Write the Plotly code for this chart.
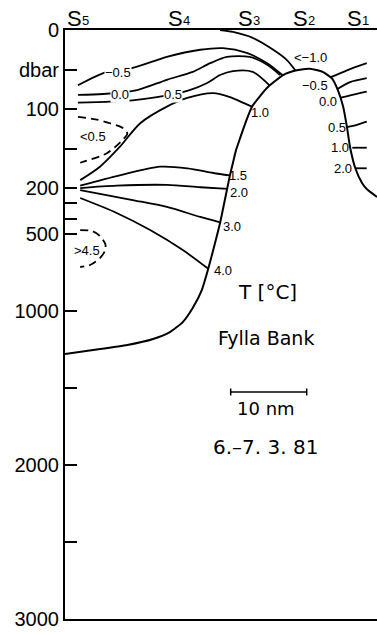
import plotly.graph_objects as go

# ---------------- depth axis: linear 0-200 dbar, compressed below ----------------
BREAK_DBAR = 200.0
DEEP_SCALE = 0.1948          # relative scale of the deep (200-3000 dbar) part


def yt(d):
    return d if d <= BREAK_DBAR else BREAK_DBAR + (d - BREAK_DBAR) * DEEP_SCALE


def ytl(ds):
    return [yt(d) for d in ds]


X_MAX_NM = 41.05
major_ticks = [0, 50, 100, 200, 500, 1000, 2000, 3000]
major_labels = ["0", "dbar", "100", "200", "500", "1000", "2000", "3000"]
minor_ticks = [150, 300, 400, 1500, 2500]

# ---------------- stations (distance in nm) ----------------
station_letter = "S"
station_numbers = ["5", "4", "3", "2", "1"]
station_x = [2.2, 15.5, 24.7, 32.0, 39.1]

# ---------------- bottom topography (Fylla Bank) ----------------
bank_x = [0.0, 3.7, 8.2, 11.6, 13.8, 15.5, 16.8, 18.0, 18.8, 19.5, 20.4, 21.3, 21.7,
          22.1, 22.5, 23.0, 23.8, 24.6, 26.6, 28.7, 30.5, 32.2, 33.9, 35.1, 35.9,
          36.6, 37.1, 37.5, 38.2, 39.1, 39.7, 41.05]
bank_d = [1279, 1253, 1220, 1181, 1136, 1071, 980, 863, 733, 603, 427, 213, 184,
          168, 152, 138, 116, 97, 73, 57, 51, 49, 53, 61, 76,
          97, 123, 148, 175, 194, 206, 258]

# ---------------- isotherms, west of the bank ----------------
surf_x = [20.4, 22.1, 24.7, 27.4, 29.2, 30.3]
surf_d = [0, 2.5, 10, 25, 38, 51]

m05_x = [1.7, 5.5, 8.9, 13.4, 17.8, 20.8, 23.9, 26.6, 28.6]
m05_d = [70, 53, 48, 34, 25, 23, 29, 42, 57]

z00_x = [1.7, 5.0, 9.5, 13.4, 16.8, 19.1, 21.3, 24.3, 26.6, 28.3]
z00_d = [82, 81, 76, 63, 53, 42, 34, 34, 44, 57]

p05_x = [1.7, 8.9, 12.1, 16.4, 18.7, 20.4, 22.1, 24.7, 26.9]
p05_d = [92, 89, 85, 76, 67, 57, 52, 53, 70]

p10_x = [2.0, 4.6, 7.2, 9.9, 13.4, 16.1, 19.5, 21.7, 23.4, 24.6]
p10_d = [190, 173, 148, 118, 97, 86, 80, 85, 92, 97]

p15_x = [2.0, 7.2, 12.5, 16.1, 19.5, 21.7]
p15_d = [197, 184, 173, 175, 181, 184]

p20_x = [2.0, 6.8, 13.4, 17.8, 21.4]
p20_d = [200, 197, 196, 199, 206]

p30_x = [2.0, 8.9, 13.4, 17.8, 20.5]
p30_d = [213, 278, 323, 388, 425]

p40_x = [2.0, 6.8, 11.2, 15.5, 18.85]
p40_d = [265, 362, 473, 603, 725]

lt05_x = [1.7, 4.0, 5.9, 7.6, 8.2, 7.6, 5.5, 2.0]
lt05_d = [110, 113, 118, 124, 131, 139, 156, 168]

gt45_x = [2.0, 3.6, 4.6, 5.3, 5.3, 4.6, 3.3, 2.0]
gt45_d = [473, 480, 512, 564, 603, 655, 700, 713]

# ---------------- isotherms, east of the bank ----------------
e_m10_x = [34.9, 37.1, 39.7]
e_m10_d = [60, 51, 42]
e_m05_x = [35.8, 37.5, 39.7]
e_m05_d = [75, 66, 61]
e_z00_x = [36.2, 37.8, 39.7]
e_z00_d = [86, 82, 78]
e_p05_x = [37.1, 38.4, 39.7]
e_p05_d = [123, 120, 116]
e_p10_x = [37.8, 39.7]
e_p10_d = [149, 149]
e_p20_x = [38.2, 39.7]
e_p20_d = [175, 175]

# ---------------- contour labels ----------------
label_text = ["−0.5", "0.0", "0.5", "1.0", "&lt;0.5", "1.5", "2.0", "3.0", "4.0", "&gt;4.5",
              "&lt;−1.0", "−0.5", "0.0", "0.5", "1.0", "2.0"]
label_x = [7.0, 7.2, 14.2, 25.7, 3.7, 22.7, 22.9, 22.0, 20.8, 2.9,
           32.3, 32.9, 34.6, 35.8, 36.2, 36.6]
label_d = [54, 81, 81, 105, 135, 184, 226, 447, 733, 603,
           35, 70, 91, 124, 149, 175]
label_bg = [True, True, True, False, False, False, False, False, False, False,
            False, False, False, False, False, False]

# ---------------- annotations in the deep part ----------------
scale_start_nm = 21.8
scale_len_nm = 10.0
scale_d = 1525
title_texts = ["T [°C]", "Fylla Bank", "10 nm", "6.–7. 3. 81"]
title_x = [26.6, 26.4, 26.4, 26.4]
title_d = [876, 1175, 1630, 1880]
title_size = [20, 19, 18, 20]

fig = go.Figure()

solid = dict(color="black", width=1.8)
dashed = dict(color="black", width=1.8, dash="8px,5px")

fig.add_trace(go.Scatter(x=bank_x, y=ytl(bank_d), mode="lines",
                         line=dict(color="black", width=2, shape="spline", smoothing=0.5)))
for xs, ds in [(surf_x, surf_d), (m05_x, m05_d), (z00_x, z00_d), (p05_x, p05_d),
               (p10_x, p10_d), (p15_x, p15_d), (p20_x, p20_d), (p30_x, p30_d),
               (p40_x, p40_d), (e_m10_x, e_m10_d), (e_m05_x, e_m05_d),
               (e_z00_x, e_z00_d), (e_p05_x, e_p05_d), (e_p10_x, e_p10_d),
               (e_p20_x, e_p20_d)]:
    fig.add_trace(go.Scatter(x=xs, y=ytl(ds), mode="lines",
                             line=dict(solid, shape="spline", smoothing=0.8)))
for xs, ds in [(lt05_x, lt05_d), (gt45_x, gt45_d)]:
    fig.add_trace(go.Scatter(x=xs, y=ytl(ds), mode="lines",
                             line=dict(dashed, shape="spline", smoothing=0.8)))

# scale bar
fig.add_trace(go.Scatter(x=[scale_start_nm, scale_start_nm + scale_len_nm],
                         y=[yt(scale_d), yt(scale_d)], mode="lines+markers",
                         line=dict(color="black", width=1.5),
                         marker=dict(symbol="line-ns-open", size=5, color="black",
                                     line=dict(width=1.5, color="black"))))

for t, x, d, bg in zip(label_text, label_x, label_d, label_bg):
    fig.add_annotation(x=x, y=yt(d), text=t, showarrow=False,
                       font=dict(family="Liberation Sans", size=13, color="black"),
                       bgcolor="white" if bg else None, borderpad=0)

for t, x, d, s in zip(title_texts, title_x, title_d, title_size):
    fig.add_annotation(x=x, y=yt(d), text=t, showarrow=False,
                       font=dict(family="DejaVu Sans", size=s, color="black"))

for num, x in zip(station_numbers, station_x):
    fig.add_annotation(x=x, y=1, yref="paper", text=station_letter, showarrow=False,
                       xanchor="right", xshift=2, yanchor="middle", yshift=12,
                       font=dict(family="Liberation Sans", size=22, color="black"))
    fig.add_annotation(x=x, y=1, yref="paper", text=num, showarrow=False,
                       xanchor="left", xshift=-2, yanchor="middle", yshift=10,
                       font=dict(family="Liberation Sans", size=13, color="black"))

yrange = [yt(3000), 0]
fig.update_layout(
    width=377, height=635,
    margin=dict(l=65, r=0, t=30, b=16),
    paper_bgcolor="white", plot_bgcolor="white",
    showlegend=False,
    xaxis=dict(range=[0, X_MAX_NM], showgrid=False, zeroline=False,
               showticklabels=False, ticks="", showline=True, mirror=True,
               linecolor="black", linewidth=2),
    yaxis=dict(range=yrange, showgrid=False, zeroline=False,
               showline=True, linecolor="black", linewidth=2,
               tickmode="array", tickvals=ytl(major_ticks), ticktext=major_labels,
               ticks="inside", ticklen=12, tickwidth=2, tickcolor="black",
               tickfont=dict(family="Liberation Sans", size=20, color="black")),
    yaxis2=dict(range=yrange, overlaying="y", side="left", anchor="x",
                showgrid=False, zeroline=False, showline=False,
                tickmode="array", tickvals=ytl(minor_ticks), showticklabels=False,
                ticks="inside", ticklen=12, tickwidth=2, tickcolor="black"),
)
# invisible trace so that yaxis2 is drawn
fig.add_trace(go.Scatter(x=[0], y=[0], yaxis="y2", mode="markers",
                         marker=dict(size=1, opacity=0), hoverinfo="skip"))

fig.write_html("out.html")
